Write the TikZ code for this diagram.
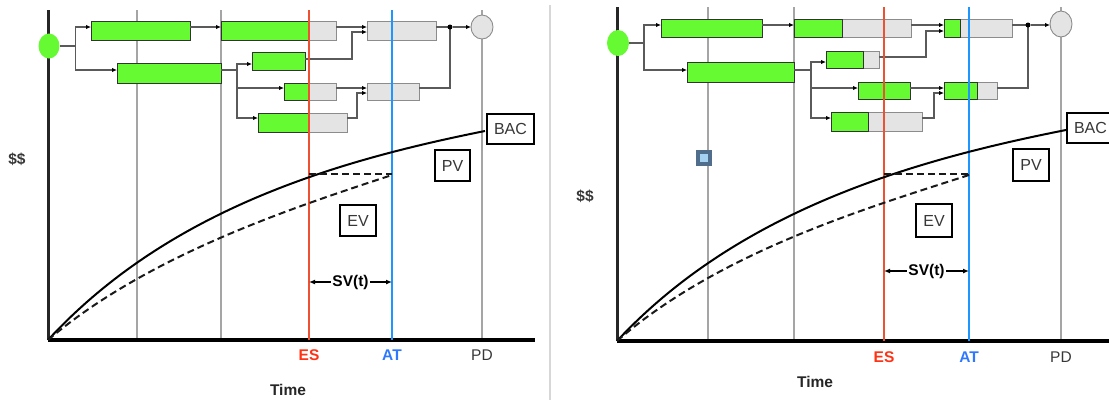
\documentclass[tikz,border=0pt]{standalone}
\usepackage{fontspec}
\setmainfont{Liberation Sans}
\usetikzlibrary{arrows.meta,calc,shapes.geometric}

\definecolor{barGreen}{RGB}{102,250,51}
\definecolor{barGray}{RGB}{228,228,228}
\definecolor{barEdge}{RGB}{140,140,140}
\definecolor{esRed}{RGB}{238,80,50}
\definecolor{esText}{RGB}{255,50,20}
\definecolor{atBlue}{RGB}{30,150,255}
\definecolor{atText}{RGB}{45,120,255}
\definecolor{guide}{RGB}{165,165,165}
\definecolor{sepGray}{RGB}{215,215,215}
\definecolor{connGray}{RGB}{90,90,90}
\definecolor{txtGray}{RGB}{55,55,55}
\definecolor{iconEdge}{RGB}{80,110,140}
\definecolor{iconFill}{RGB}{165,210,240}

\begin{document}
\begin{tikzpicture}[x=1pt,y=-1pt,
  gbar/.style={draw=black!80, fill=barGreen, line width=0.8pt, inner sep=0pt, outer sep=0pt, anchor=north west},
  ybar/.style={draw=barEdge, fill=barGray, line width=0.8pt, inner sep=0pt, outer sep=0pt, anchor=north west},
  greenpart/.style={draw=black!80, fill=barGreen, line width=0.8pt},
  conn/.style={draw=connGray, line width=1.1pt},
  arr/.style={conn, -{Latex[length=5pt,width=4.5pt,color=black]}},
  jdot/.style={circle, fill=black, inner sep=0pt, minimum size=5pt},
  startnode/.style={ellipse, fill=barGreen, inner sep=0pt, outer sep=0pt, minimum width=21pt, minimum height=25pt},
  endnode/.style={ellipse, fill=barGray, draw=barEdge, line width=0.9pt, inner sep=0pt, outer sep=0pt, minimum width=22pt, minimum height=24pt},
  guideline/.style={draw=guide, line width=1.5pt},
  esline/.style={draw=esRed, line width=1.8pt},
  atline/.style={draw=atBlue, line width=2pt},
  yaxis/.style={draw=black!85, line width=3pt},
  xaxis/.style={draw=black, line width=3.5pt},
  pvcurve/.style={draw=black, line width=2pt},
  evcurve/.style={draw=black!90, line width=2pt, dash pattern=on 7pt off 4pt},
  lbl/.style={inner sep=0pt, font=\fontsize{15.5}{18}\selectfont},
  boldlbl/.style={lbl, font=\fontsize{15.5}{18}\selectfont\bfseries},
  valbox/.style={draw=black, line width=2.4pt, fill=white, inner sep=0pt, text=txtGray, font=\fontsize{16}{18}\selectfont},
  svarrow/.style={draw=black, line width=1.3pt, {Latex[length=6pt,width=5pt]}-{Latex[length=6pt,width=5pt]}},
  icon/.style={draw=iconEdge, fill=iconFill, line width=3.5pt, minimum size=12pt, inner sep=0pt}
]
\useasboundingbox (0,0) rectangle (1109,400);
\clip (0,0) rectangle (1109,400);

% separator
\draw[draw=sepGray, line width=1.5pt] (550,5) -- (550,400);

%================ LEFT PANEL ================
\coordinate (o1) at (48,340);
\draw[guideline] (137,10) -- (137,340);
\draw[guideline] (221,10) -- (221,340);
\draw[guideline] (482,10) -- (482,340);
\draw[yaxis] (48,10) -- (o1);
\draw[xaxis] (o1) -- (535,340);

% bars
\node[gbar, minimum width=99pt, minimum height=19pt] (a1) at (91,21) {};
\node[ybar, minimum width=115pt, minimum height=19pt] (a2) at (221,21) {};
\draw[greenpart] (a2.south west) rectangle ([xshift=88pt]a2.north west);
\node[gbar, minimum width=104pt, minimum height=20pt] (b1) at (117,63) {};
\node[gbar, minimum width=53pt, minimum height=18pt] (c11) at (252,52) {};
\node[ybar, minimum width=52pt, minimum height=17pt] (c21) at (284,83) {};
\draw[greenpart] (c21.south west) rectangle ([xshift=25pt]c21.north west);
\node[ybar, minimum width=89pt, minimum height=19pt] (c31) at (258,113) {};
\draw[greenpart] (c31.south west) rectangle ([xshift=51pt]c31.north west);
\node[ybar, minimum width=69pt, minimum height=19pt] (d11) at (367,21) {};
\node[ybar, minimum width=52pt, minimum height=17pt] (d21) at (367,83) {};
\node[startnode] (s1) at (49,46) {};
\node[endnode] (e1) at (482,27) {};

% connectors
\draw[conn] (s1.east) -- ++(16,0) coordinate (j1);
\draw[arr] (j1) |- ([yshift=-6pt]a1.north west);
\draw[arr] (j1) |- ([yshift=-7pt]b1.north west);
\draw[arr] ([yshift=-6pt]a1.north east) -- ([yshift=-6pt]a2.north west);
\draw[conn] ([yshift=-7pt]b1.north east) -- ++(16,0) coordinate (j2);
\draw[arr] (j2) |- ([yshift=-12pt]c11.north west);
\draw[arr] (j2) |- ([yshift=-5pt]c21.north west);
\draw[arr] (j2) |- ([yshift=-5pt]c31.north west);
\draw[arr] ([yshift=-6pt]a2.north east) -- ([yshift=-6pt]d11.north west);
\draw[arr] ([yshift=-7pt]c11.north east) -- ++(47,0) |- ([yshift=-11pt]d11.north west);
\draw[arr] ([yshift=-5pt]c21.north east) -- ([yshift=-5pt]d21.north west);
\draw[arr] ([yshift=-5pt]c31.north east) -- ++(10,0) |- ([yshift=-10pt]d21.north west);
\draw[conn] ([yshift=-6pt]d11.north east) -- ++(14,0) coordinate (j3);
\draw[conn] ([yshift=-5pt]d21.north east) -| (j3);
\node[jdot] (dot1) at (j3) {};
\draw[arr] (dot1) -- (e1.west);

% status lines
\draw[esline] (309,10) -- (309,340);
\draw[atline] (392,10) -- (392,340);

% curves
\draw[pvcurve] (o1) .. controls (168,210) and (335,161) .. (485,131);
\draw[evcurve] (o1) .. controls (148,255) and (292,208) .. (392,175);
\draw[evcurve] (309,174) -- (392,174);

% boxes
\node[valbox, minimum width=46.6pt, minimum height=29.6pt] (bac1) at (510.5,129) {BAC};
\node[valbox, minimum width=34.6pt, minimum height=30.6pt] (pv1) at (452.5,165.5) {PV};
\node[valbox, minimum width=35.6pt, minimum height=30.6pt] (ev1) at (358,220.5) {EV};

% SV(t)
\coordinate (sva1) at (309,282);
\coordinate (svb1) at (392,282);
\draw[svarrow] (sva1) -- (svb1) node[midway, fill=white, boldlbl, inner xsep=1.5pt, inner ysep=2pt] (sv1) {SV(t)};

% labels
\node[boldlbl, text=txtGray] (dol1) at (17,159) {\$\$};
\node[boldlbl, text=esText] (es1) at (309,355) {ES};
\node[boldlbl, text=atText] (at1) at (392,355) {AT};
\node[lbl, text=txtGray] (pd1) at (482,355) {PD};
\node[boldlbl, text=black!85] (t1) at (288,390) {Time};

%================ RIGHT PANEL ================
\coordinate (o2) at (617,341);
\draw[guideline] (708,7) -- (708,341);
\draw[guideline] (794,7) -- (794,341);
\draw[guideline] (1061,7) -- (1061,341);
\draw[yaxis] (617,7) -- (o2);
\draw[xaxis] (o2) -- (1115,341);

% bars
\node[gbar, minimum width=101pt, minimum height=18pt] (a12) at (661,19) {};
\node[ybar, minimum width=117pt, minimum height=18pt] (a22) at (794,19) {};
\draw[greenpart] (a22.south west) rectangle ([xshift=48pt]a22.north west);
\node[gbar, minimum width=107pt, minimum height=20pt] (b2) at (687,62) {};
\node[ybar, minimum width=53pt, minimum height=17pt] (c12) at (826,51) {};
\draw[greenpart] (c12.south west) rectangle ([xshift=37pt]c12.north west);
\node[gbar, minimum width=52pt, minimum height=17pt] (c22) at (858,82) {};
\node[ybar, minimum width=91pt, minimum height=19pt] (c32) at (831,112) {};
\draw[greenpart] (c32.south west) rectangle ([xshift=37pt]c32.north west);
\node[ybar, minimum width=68pt, minimum height=18pt] (d12) at (944,19) {};
\draw[greenpart] (d12.south west) rectangle ([xshift=16pt]d12.north west);
\node[ybar, minimum width=53pt, minimum height=17pt] (d22) at (944,82) {};
\draw[greenpart] (d22.south west) rectangle ([xshift=33pt]d22.north west);
\node[startnode, minimum width=22pt, minimum height=26pt] (s2) at (618,43) {};
\node[endnode, minimum height=26pt] (e2) at (1061,24) {};

% connectors
\draw[conn] (s2.east) -- ++(15,0) coordinate (k1);
\draw[arr] (k1) |- ([yshift=-6pt]a12.north west);
\draw[arr] (k1) |- ([yshift=-8pt]b2.north west);
\draw[arr] ([yshift=-6pt]a12.north east) -- ([yshift=-6pt]a22.north west);
\draw[conn] ([yshift=-8pt]b2.north east) -- ++(17,0) coordinate (k2);
\draw[arr] (k2) |- ([yshift=-11pt]c12.north west);
\draw[arr] (k2) |- ([yshift=-6pt]c22.north west);
\draw[arr] (k2) |- ([yshift=-6pt]c32.north west);
\draw[arr] ([yshift=-6pt]a22.north east) -- ([yshift=-6pt]d12.north west);
\draw[arr] ([yshift=-6pt]c12.north east) -- ++(47,0) |- ([yshift=-12pt]d12.north west);
\draw[arr] ([yshift=-6pt]c22.north east) -- ([yshift=-6pt]d22.north west);
\draw[arr] ([yshift=-6pt]c32.north east) -- ++(12,0) |- ([yshift=-11pt]d22.north west);
\draw[conn] ([yshift=-6pt]d12.north east) -- ++(16,0) coordinate (k3);
\draw[conn] ([yshift=-6pt]d22.north east) -| (k3);
\node[jdot] (dot2) at (k3) {};
\draw[arr] (dot2) -- (e2.west |- dot2);

% status lines
\draw[esline] (884,7) -- (884,341);
\draw[atline] (969,7) -- (969,341);

% curves
\draw[pvcurve] (o2) .. controls (739,210) and (914,160) .. (1066,130);
\draw[evcurve] (o2) .. controls (719,252) and (867,208) .. (969,175);
\draw[evcurve] (884,174) -- (969,174);

% boxes
\node[valbox, minimum width=46.6pt, minimum height=29.6pt] (bac2) at (1090.5,128) {BAC};
\node[valbox, minimum width=35.6pt, minimum height=31.6pt] (pv2) at (1031,165) {PV};
\node[valbox, minimum width=35.6pt, minimum height=32.6pt] (ev2) at (934,220.5) {EV};

% SV(t)
\coordinate (sva2) at (884,271);
\coordinate (svb2) at (969,271);
\draw[svarrow] (sva2) -- (svb2) node[midway, fill=white, boldlbl, inner xsep=1.5pt, inner ysep=2pt] (sv2) {SV(t)};

% icon
\node[icon] (ic2) at (704,158) {};

% labels
\node[boldlbl, text=txtGray] (dol2) at (585,196) {\$\$};
\node[boldlbl, text=esText] (es2) at (884,357) {ES};
\node[boldlbl, text=atText] (at2) at (969,357) {AT};
\node[lbl, text=txtGray] (pd2) at (1061,357) {PD};
\node[boldlbl, text=black!85] (t2) at (815,382) {Time};
\end{tikzpicture}
\end{document}
